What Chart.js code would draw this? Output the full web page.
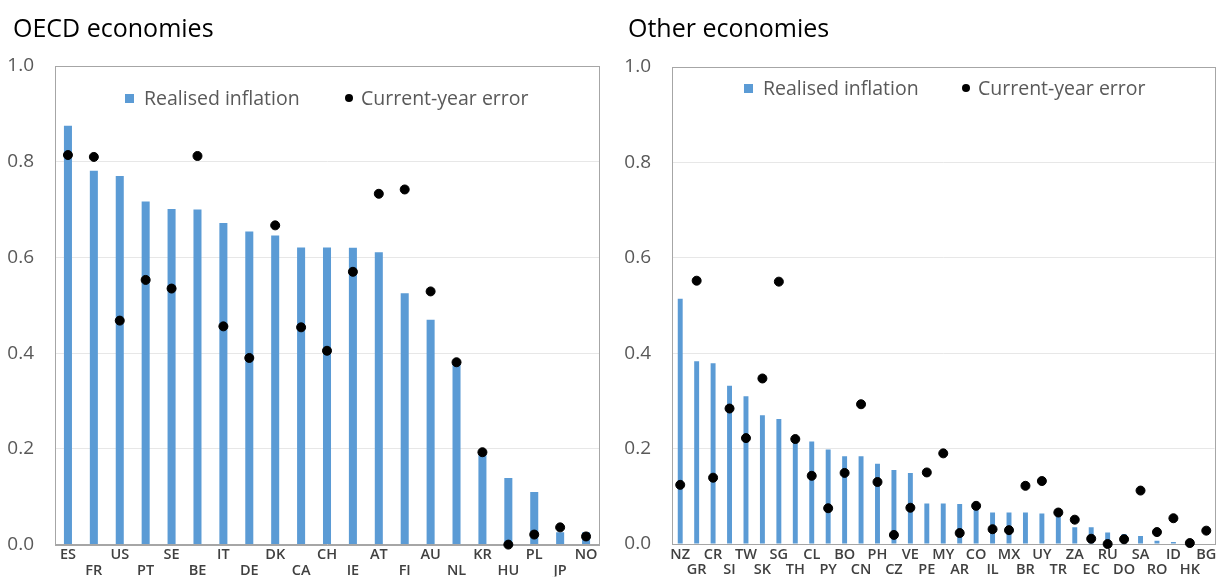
<!DOCTYPE html>
<html><head><meta charset="utf-8">
<script src="https://cdn.jsdelivr.net/npm/chart.js@4.4.1/dist/chart.umd.min.js"></script>
<style>
html,body{margin:0;padding:0;background:#fff;}
#wrap{position:relative;width:1220px;height:577px;overflow:hidden;font-family:"Open Sans",sans-serif;}
.title{position:absolute;top:10px;font-size:25px;color:#000;line-height:34px;white-space:nowrap;}
.box{position:absolute;top:0;width:610px;height:577px;}
.legend{position:absolute;font-size:19.5px;color:#595959;line-height:26px;white-space:nowrap;}
.sq{display:inline-block;width:9px;height:9px;background:#5b9bd5;margin-right:10px;vertical-align:2px;}
.dot{display:inline-block;width:8px;height:8px;border-radius:50%;background:#000;margin-right:8px;vertical-align:3px;}
</style></head>
<body><div id="wrap">
<div class="box" style="left:0"><canvas id="c1" width="610" height="577"></canvas></div>
<div class="box" style="left:610px"><canvas id="c2" width="610" height="577"></canvas></div>
<div class="title" style="left:13px">OECD economies</div>
<div class="title" style="left:628px">Other economies</div>
<div class="legend" style="left:125px;top:85px"><span class="sq"></span>Realised inflation</div>
<div class="legend" style="left:345px;top:85px"><span class="dot"></span>Current-year error</div>
<div class="legend" style="left:744px;top:75px"><span class="sq"></span>Realised inflation</div>
<div class="legend" style="left:962px;top:75px"><span class="dot"></span>Current-year error</div>
</div>
<script>
const oecdCountries = ["ES","FR","US","PT","SE","BE","IT","DE","DK","CA","CH","IE","AT","FI","AU","NL","KR","HU","PL","JP","NO"];
const oecdRealised = [0.875,0.781,0.770,0.717,0.701,0.700,0.672,0.654,0.646,0.621,0.621,0.620,0.611,0.525,0.470,0.378,0.188,0.139,0.110,0.026,0.026];
const oecdError    = [0.814,0.810,0.468,0.553,0.535,0.812,0.456,0.390,0.667,0.454,0.405,0.570,0.733,0.742,0.529,0.381,0.193,0.000,0.021,0.036,0.017];

const otherCountries = ["NZ","GR","CR","SI","TW","SK","SG","TH","CL","PY","BO","CN","PH","CZ","VE","PE","MY","AR","CO","IL","MX","BR","UY","TR","ZA","EC","RU","DO","SA","RO","ID","HK","BG"];
const otherRealised = [0.514,0.383,0.379,0.332,0.310,0.270,0.262,0.220,0.215,0.198,0.184,0.184,0.168,0.155,0.149,0.085,0.085,0.084,0.080,0.066,0.066,0.066,0.064,0.064,0.035,0.035,0.024,0.021,0.017,0.007,0.004,0.001,0.001];
const otherError    = [0.124,0.552,0.139,0.284,0.222,0.347,0.550,0.220,0.143,0.075,0.149,0.293,0.130,0.019,0.076,0.150,0.190,0.023,0.080,0.031,0.029,0.122,0.132,0.066,0.051,0.011,0.000,0.010,0.112,0.025,0.054,0.002,0.028];

const yMin = 0, yMax = 1.0, yStep = 0.2;
const seriesNames = ["Realised inflation","Current-year error"];

const frame = {
  id: 'frame',
  beforeDatasetsDraw(chart) {
    const a = chart.chartArea, ctx = chart.ctx;
    ctx.save();
    ctx.strokeStyle = '#a6a6a6';
    ctx.lineWidth = 1;
    ctx.strokeRect(Math.round(a.left)+0.5, Math.round(a.top)+0.5, Math.round(a.right-a.left), Math.round(a.bottom-a.top));
    ctx.restore();
  }
};

function makeChart(id, labels, bars, dots, cfg) {
  return new Chart(document.getElementById(id), {
    data: {
      labels: labels,
      datasets: [
        { type: 'scatter', label: seriesNames[1], data: dots.map((v,i)=>({x: labels[i], y: v})),
          backgroundColor: '#000', borderColor: '#000', pointRadius: cfg.dotR, pointHoverRadius: cfg.dotR,
          showLine: false, clip: false, order: 0 },
        { type: 'bar', label: seriesNames[0], data: bars, backgroundColor: '#5b9bd5',
          barPercentage: cfg.barPct, categoryPercentage: 1.0, order: 1 }
      ]
    },
    options: {
      responsive: false, animation: false,
      layout: { padding: { top: cfg.top, right: cfg.right, left: 0, bottom: 0 } },
      plugins: { legend: { display: false }, tooltip: { enabled: false } },
      scales: {
        x: {
          type: 'category', offset: true,
          grid: { display: false, drawTicks: false },
          border: { display: true, color: '#a6a6a6' },
          afterFit(s) { s.height = cfg.xH; },
          ticks: {
            autoSkip: false, maxRotation: 0, minRotation: 0, padding: 3,
            color: '#404040', font: { family: 'Open Sans', size: 14.5, weight: '600', lineHeight: 1.05 },
            callback(v, i) { const l = labels[i]; return i % 2 === 0 ? l : ['', l]; }
          }
        },
        y: {
          min: yMin, max: yMax,
          grid: { color: (c) => (c.tick && (c.tick.value === 0 || c.tick.value === 1)) ? 'rgba(0,0,0,0)' : '#e7e7e7', drawTicks: false },
          border: { display: true, color: '#a6a6a6' },
          afterFit(s) { s.width = cfg.yW; },
          ticks: {
            stepSize: yStep, padding: cfg.yPad, color: '#595959',
            font: { family: 'Open Sans', size: 19 },
            callback(v) { return Number(v).toFixed(1); }
          }
        }
      }
    },
    plugins: [frame]
  });
}

makeChart('c1', oecdCountries, oecdRealised, oecdError, { top: 66, right: 11, xH: 32, yW: 55, yPad: 21, barPct: 0.31, dotR: 4.5 });
makeChart('c2', otherCountries, otherRealised, otherError, { top: 67, right: 3, xH: 33, yW: 62, yPad: 21, barPct: 0.3, dotR: 4.5 });
</script>
</body></html>
